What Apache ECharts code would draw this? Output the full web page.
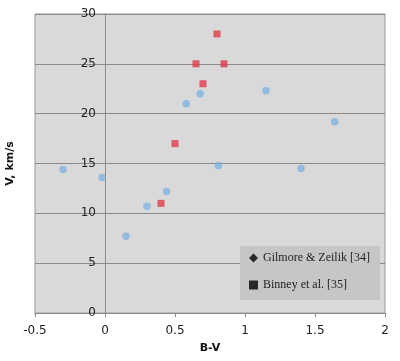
<!DOCTYPE html>
<html><head><meta charset="utf-8">
<script src="https://cdn.jsdelivr.net/npm/echarts@6/dist/echarts.min.js"></script>
<style>html,body{margin:0;padding:0;background:#fff}#c{width:400px;height:361px}</style>
</head><body><div id="c"></div>
<script>
var gilmoreBV = [-0.30, -0.02, 0.15, 0.30, 0.44, 0.58, 0.68, 0.81, 1.15, 1.40, 1.64];
var gilmoreV  = [14.4, 13.6, 7.7, 10.7, 12.2, 21.0, 22.0, 14.8, 22.3, 14.5, 19.2];
var binneyBV  = [0.40, 0.50, 0.65, 0.70, 0.80, 0.85];
var binneyV   = [11.0, 17.0, 25.0, 23.0, 28.0, 25.0];
var seriesNames = ['Gilmore & Zeilik [34]', 'Binney et al. [35]'];
var xTitle = 'B-V', yTitle = 'V, km/s';

function pairs(xs, ys){ return xs.map(function(x,i){ return [x, ys[i]]; }); }

var chart = echarts.init(document.getElementById('c'));
var axisFont = {fontFamily:'DejaVu Sans', fontSize:12, color:'#222'};
var gridLeft = 35, gridRight = 15, W = 400;
var xMin = -0.5, xMax = 2;
// shift y axis so it sits at B-V = 0
var yOffset = -((0 - xMin) / (xMax - xMin)) * (W - gridLeft - gridRight);
chart.setOption({
  animation:false,
  grid:{left:gridLeft, right:gridRight, top:14, bottom:48, outerBoundsMode:'none', containLabel:false,
        show:true, backgroundColor:'#d9d9d9', borderColor:'#9a9a9a', borderWidth:1},
  xAxis:{type:'value', min:xMin, max:xMax, interval:0.5,
    name:xTitle, nameLocation:'middle', nameGap:30,
    nameTextStyle:{fontFamily:'DejaVu Sans', fontSize:11, fontWeight:'bold', color:'#111'},
    axisLine:{onZero:false, lineStyle:{color:'#8a8a8a'}},
    axisTick:{show:true, length:4, lineStyle:{color:'#8a8a8a'}},
    axisLabel:Object.assign({margin:12}, axisFont),
    splitLine:{show:false}},
  yAxis:{type:'value', min:0, max:30, interval:5, position:'left', offset:yOffset,
    name:yTitle, nameLocation:'middle', nameGap:89, nameRotate:90,
    nameTextStyle:{fontFamily:'DejaVu Sans', fontSize:11, fontWeight:'bold', color:'#111'},
    axisLine:{onZero:false, lineStyle:{color:'#8a8a8a'}},
    axisTick:{show:true, length:4, lineStyle:{color:'#8a8a8a'}},
    axisLabel:Object.assign({margin:9}, axisFont),
    splitLine:{show:true, lineStyle:{color:'#8a8a8a', width:1}}},
  legend:{orient:'vertical', left:240, top:246, padding:[6,10,9,9], itemGap:15,
    backgroundColor:'#c6c6c6', itemWidth:9, itemHeight:9,
    textStyle:{fontFamily:'Liberation Serif', fontSize:12, color:'#222'},
    data:[{name:seriesNames[0], icon:'diamond', itemStyle:{color:'#000'}},
          {name:seriesNames[1], icon:'rect', itemStyle:{color:'#000'}}]},
  series:[
    {name:seriesNames[0], type:'scatter', symbol:'circle', symbolSize:7.5,
     itemStyle:{color:'#7fb3e0'}, data:pairs(gilmoreBV, gilmoreV)},
    {name:seriesNames[1], type:'scatter', symbol:'rect', symbolSize:7,
     itemStyle:{color:'#df3a48'}, data:pairs(binneyBV, binneyV)}
  ]
});
</script></body></html>
